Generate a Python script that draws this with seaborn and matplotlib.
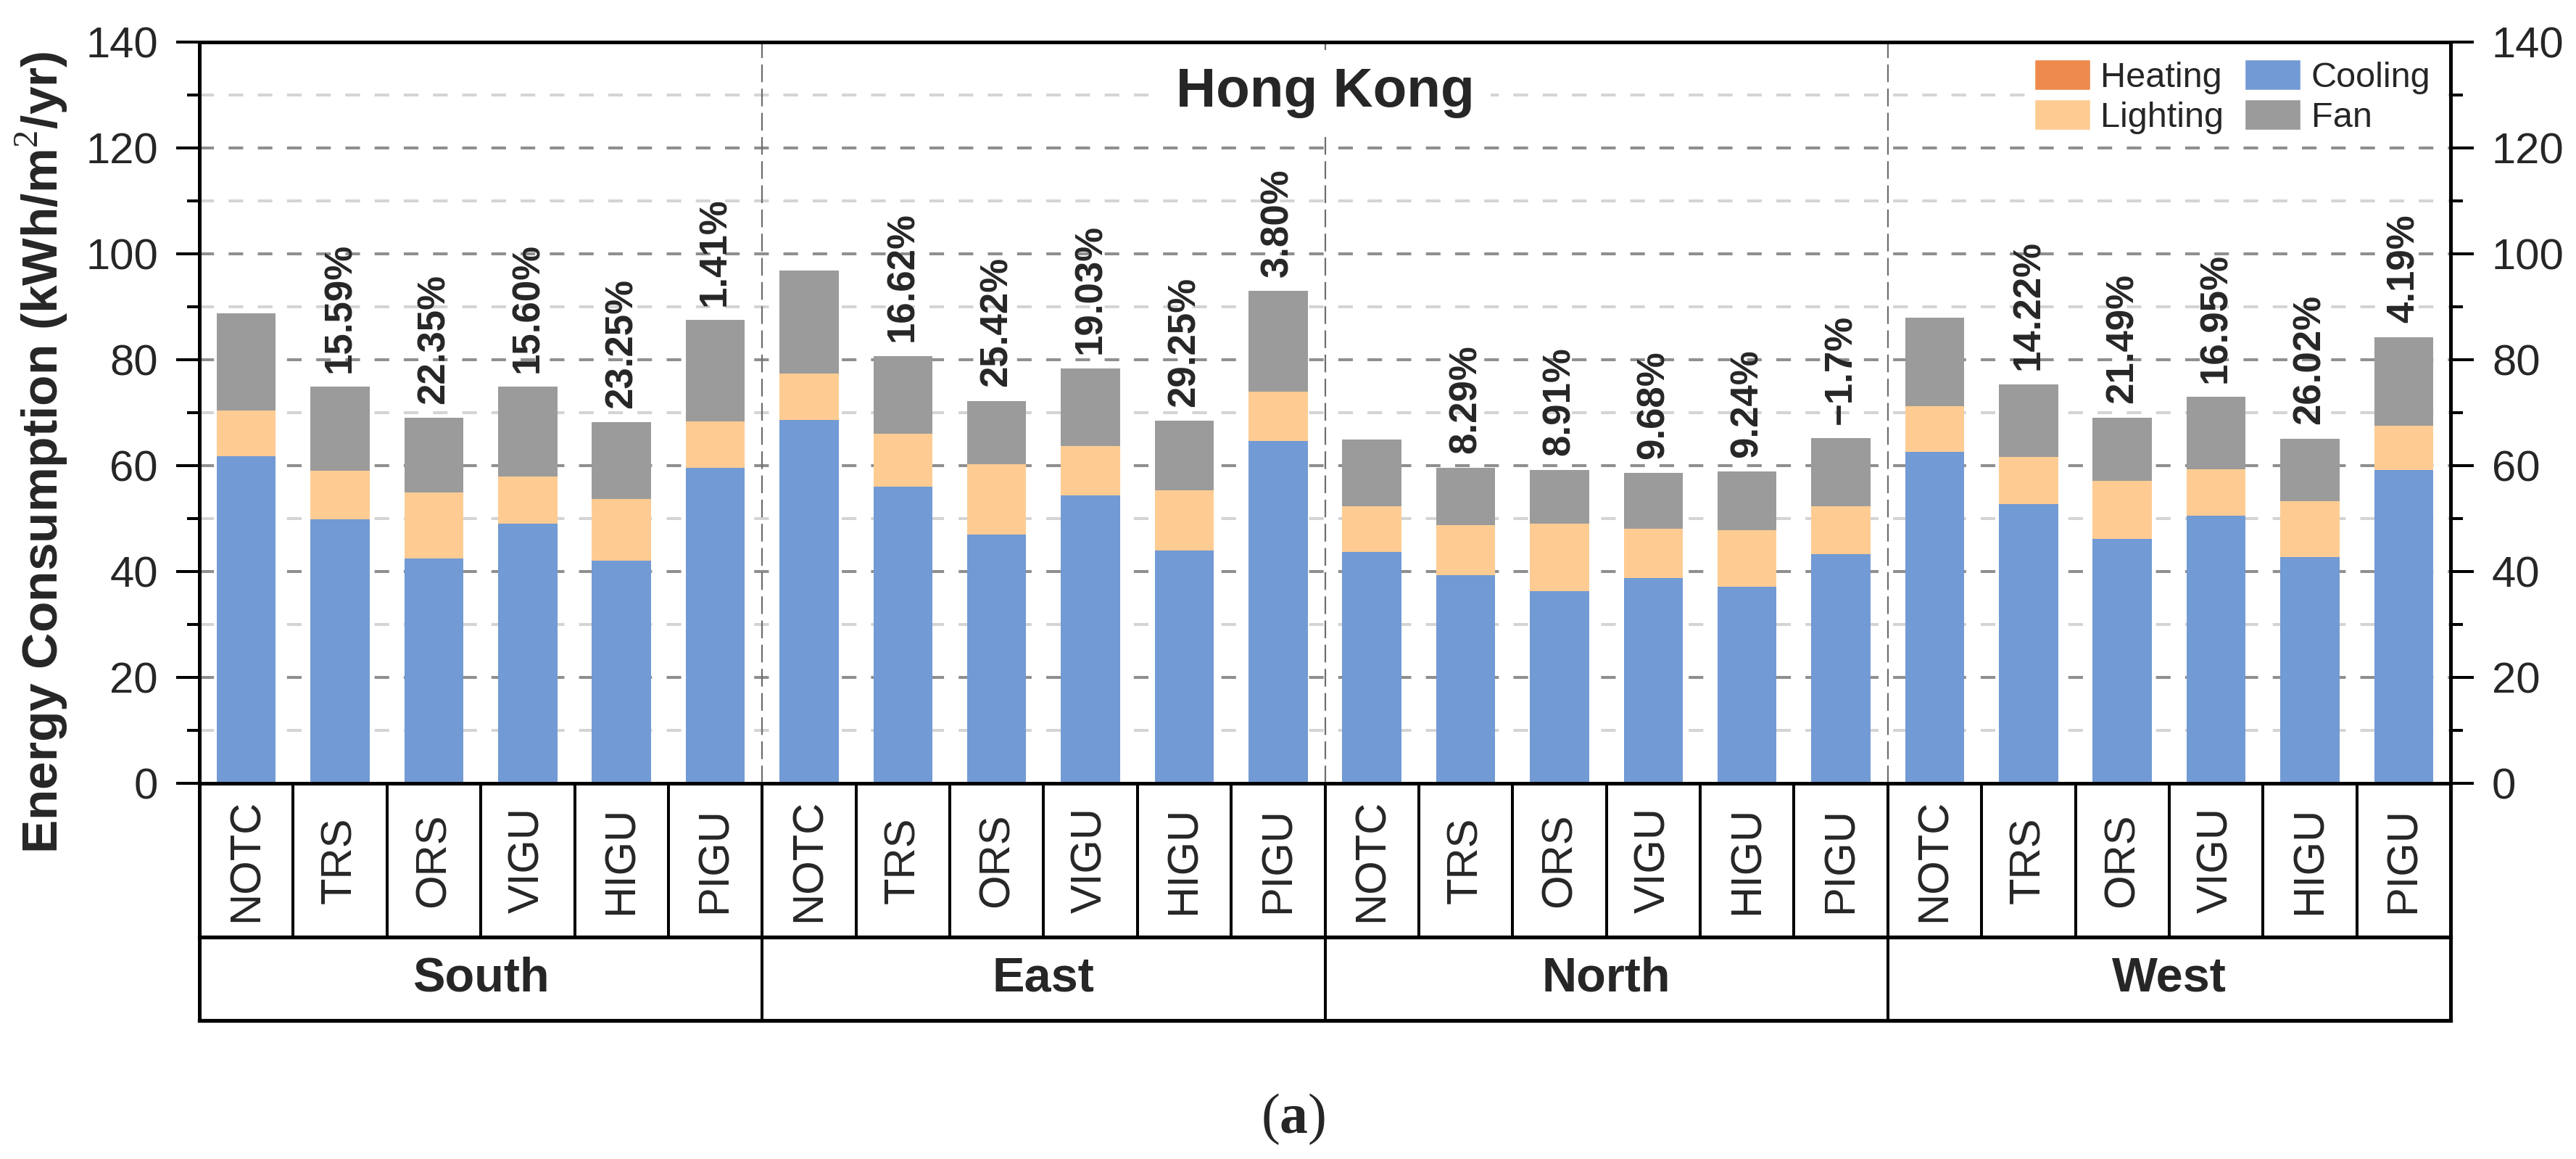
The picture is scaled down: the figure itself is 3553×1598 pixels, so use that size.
import numpy as np
import pandas as pd
import matplotlib
matplotlib.use("Agg")
import matplotlib.pyplot as plt
import seaborn as sns
from matplotlib.patches import Patch
from matplotlib.ticker import FixedLocator
from matplotlib import font_manager

# ---------------- data ----------------
orientations = ["South", "East", "North", "West"]
cases = ["NOTC", "TRS", "ORS", "VIGU", "HIGU", "PIGU"]

heating = {
    "South": [0, 0, 0, 0, 0, 0],
    "East":  [0, 0, 0, 0, 0, 0],
    "North": [0, 0, 0, 0, 0, 0],
    "West":  [0, 0, 0, 0, 0, 0],
}
cooling = {
    "South": [61.8, 49.9, 42.4, 49.0, 42.0, 59.6],
    "East":  [68.6, 56.0, 47.0, 54.4, 44.0, 64.7],
    "North": [43.7, 39.3, 36.3, 38.8, 37.1, 43.3],
    "West":  [62.6, 52.8, 46.1, 50.5, 42.8, 59.2],
}
lighting = {
    "South": [8.6, 9.1, 12.6, 8.9, 11.7, 8.8],
    "East":  [8.8, 10.0, 13.3, 9.3, 11.4, 9.3],
    "North": [8.6, 9.4, 12.8, 9.3, 10.7, 9.0],
    "West":  [8.6, 8.8, 11.0, 8.8, 10.5, 8.4],
}
fan = {
    "South": [18.4, 15.9, 14.0, 17.0, 14.5, 19.1],
    "East":  [19.4, 14.7, 11.9, 14.7, 13.1, 19.0],
    "North": [12.6, 10.9, 10.1, 10.5, 11.1, 12.9],
    "West":  [16.8, 13.8, 12.0, 13.7, 11.8, 16.7],
}
pct_labels = {
    "South": ["", "15.59%", "22.35%", "15.60%", "23.25%", "1.41%"],
    "East":  ["", "16.62%", "25.42%", "19.03%", "29.25%", "3.80%"],
    "North": ["", "8.29%", "8.91%", "9.68%", "9.24%", "\u22121.7%"],
    "West":  ["", "14.22%", "21.49%", "16.95%", "26.02%", "4.19%"],
}
y_major = [0, 20, 40, 60, 80, 100, 120, 140]
y_minor = [10, 30, 50, 70, 90, 110, 130]

C_HEAT = "#ED8A4C"
C_LIGHT = "#FECC92"
C_COOL = "#729AD4"
C_FAN = "#9B9B9B"

rows = []
for o in orientations:
    for i, c in enumerate(cases):
        rows.append(dict(id=f"{o}-{c}", orient=o, case=c,
                         heating=heating[o][i], cooling=cooling[o][i],
                         lighting=lighting[o][i], fan=fan[o][i],
                         label=pct_labels[o][i]))
df = pd.DataFrame(rows)
df["cum_cool"] = df["heating"] + df["cooling"]
df["cum_heat"] = df["heating"]
df["cum_light"] = df["cum_cool"] + df["lighting"]
df["total"] = df["cum_light"] + df["fan"]
order = list(df["id"])

# ---------------- style ----------------
sns.set_style("white")
avail = {f.name for f in font_manager.fontManager.ttflist}
plt.rcParams["font.family"] = ["Liberation Sans", "DejaVu Sans"]
plt.rcParams["mathtext.fontset"] = "custom"
plt.rcParams["mathtext.rm"] = "Liberation Serif"
plt.rcParams["mathtext.bf"] = "Liberation Serif:bold"

W, H = 3553, 1598
fig = plt.figure(figsize=(W / 100, H / 100), dpi=100)
L, R, T, B = 275, 3380, 58, 1080
ax = fig.add_axes([L / W, 1 - B / H, (R - L) / W, (B - T) / H])
ax.set_axisbelow(True)

bw = 0.63
for col, color in [("total", C_FAN), ("cum_light", C_LIGHT),
                   ("cum_cool", C_COOL), ("cum_heat", C_HEAT)]:
    sns.barplot(data=df, x="id", y=col, order=order, color=color,
                saturation=1, width=bw, errorbar=None, linewidth=0,
                ax=ax, zorder=2)

ax.set_xlim(-0.5, 23.5)
ax.set_ylim(0, 140)
ax.set_xlabel("")
ax.set_xticks([])

# y ticks on both sides
ax.yaxis.set_major_locator(FixedLocator(y_major))
ax.yaxis.set_minor_locator(FixedLocator(y_minor))
ax.tick_params(axis="y", which="both", direction="out", left=True, right=True,
               labelleft=True, labelright=True, width=2.9, color="black")
ax.tick_params(axis="y", which="major", length=23, labelsize=43, pad=18)
ax.tick_params(axis="y", which="minor", length=12)

for s in ax.spines.values():
    s.set_linewidth(3.6)
    s.set_color("black")
    s.set_zorder(6)

# gridlines
for v in y_major[1:-1]:
    ax.axhline(v, color="#8f8f8f", lw=2.9, ls=(0, (5, 5)), zorder=0)
for v in y_minor:
    ax.axhline(v, color="#d4d4d4", lw=2.9, ls=(0, (5, 5)), zorder=0)
# group separators
for g in range(1, len(orientations)):
    ax.axvline(g * len(cases) - 0.5, color="#6e6e6e", lw=1.6,
               ls=(0, (11, 4)), zorder=1)

# percentage labels
for i, r in df.iterrows():
    if r["label"]:
        ax.annotate(r["label"], xy=(i, r["total"]), xytext=(0, 14),
                    textcoords="offset points", rotation=90, ha="center",
                    va="bottom", fontsize=38, fontweight="bold", zorder=4)

# y label
if "Liberation Sans Narrow" in avail:
    ax.set_ylabel("Energy Consumption (kWh/m$^2$/yr)", fontsize=58,
                  fontweight="bold", family=["Liberation Sans Narrow", "DejaVu Sans"])
else:
    ax.set_ylabel("Energy Consumption (kWh/m$^2$/yr)", fontsize=50,
                  fontweight="bold")
ax.yaxis.set_label_coords(-0.0577, 0.446)

# title
ax.text(0.5, 0.913, "Hong Kong", transform=ax.transAxes, ha="center",
        va="baseline", fontsize=55, fontweight="bold", zorder=5,
        bbox=dict(boxstyle="square,pad=0.3", fc="white", ec="none"))

# legend
handles = [Patch(facecolor=C_HEAT, label="Heating"),
           Patch(facecolor=C_LIGHT, label="Lighting"),
           Patch(facecolor=C_COOL, label="Cooling"),
           Patch(facecolor=C_FAN, label="Fan")]
leg = ax.legend(handles=handles, ncol=2, loc="upper right",
                bbox_to_anchor=(0.995, 0.988), fontsize=35, frameon=True,
                fancybox=False, edgecolor="none", facecolor="white",
                framealpha=1, handlelength=1.58, handleheight=0.95,
                handletextpad=0.3, columnspacing=0.6, labelspacing=0.15,
                borderpad=0.25, borderaxespad=0)
leg.set_zorder(5)

# category table below axis
trans = ax.get_xaxis_transform()
y_cat = (B - 1292) / (B - T)
y_grp = (B - 1407) / (B - T)
n = len(order)
for k in range(1, n):
    ax.plot([k - 0.5, k - 0.5], [0, y_cat], transform=trans, color="black",
            lw=2.9, clip_on=False, solid_capstyle="butt")
for x in [-0.5, n - 0.5]:
    ax.plot([x, x], [0, y_grp], transform=trans, color="black",
            lw=3.6, clip_on=False, solid_capstyle="butt")
for g in range(1, len(orientations)):
    x = g * len(cases) - 0.5
    ax.plot([x, x], [y_cat, y_grp], transform=trans, color="black",
            lw=2.9, clip_on=False, solid_capstyle="butt")
ax.plot([-0.5, n - 0.5], [y_cat, y_cat], transform=trans, color="black",
        lw=3.8, clip_on=False, solid_capstyle="projecting")
ax.plot([-0.5, n - 0.5], [y_grp, y_grp], transform=trans, color="black",
        lw=3.8, clip_on=False, solid_capstyle="projecting")

for i, r in df.iterrows():
    ax.text(i, y_cat / 2, r["case"], transform=trans, rotation=90,
            ha="center", va="center", fontsize=43)
for g, o in enumerate(orientations):
    xc = g * len(cases) + (len(cases) - 1) / 2
    ax.text(xc, (y_cat + y_grp) / 2, o, transform=trans, ha="center",
            va="center", fontsize=48, fontweight="bold")

fig.text(0.502, 0.034, r"$\mathrm{(}\mathbf{a}\mathrm{)}$", ha="center",
         va="center", fontsize=56)

fig.savefig("out.png", dpi=100, facecolor="white")
